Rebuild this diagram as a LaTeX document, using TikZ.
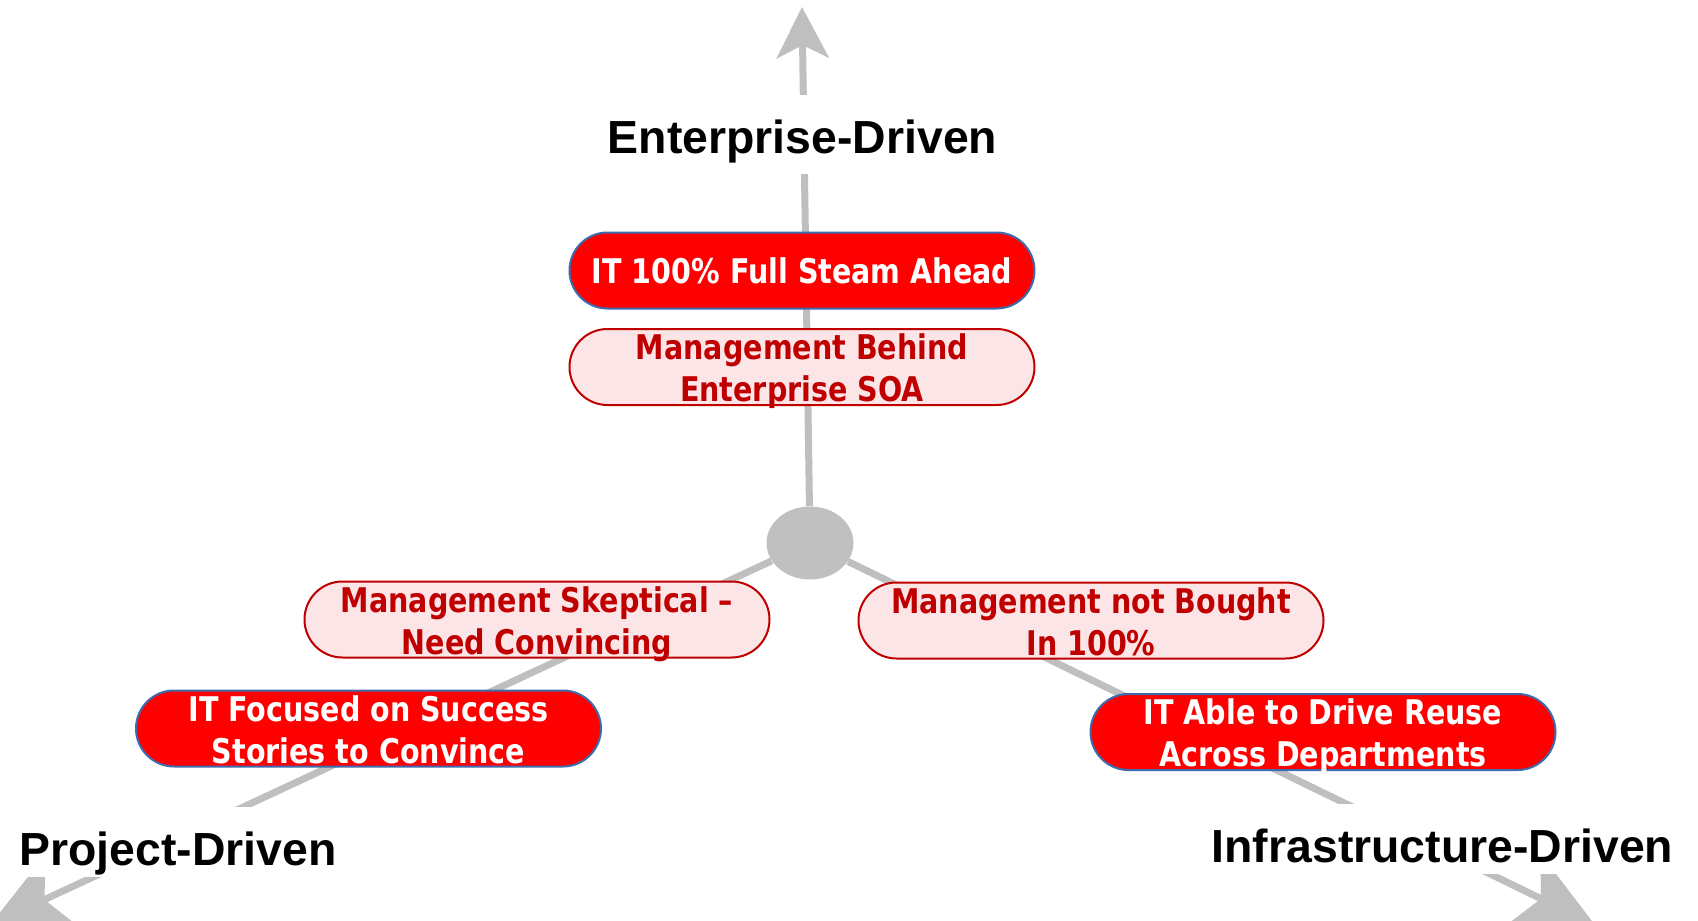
\documentclass[tikz,border=0pt]{standalone}
\usepackage{fontspec}
\usepackage{tikz}
\usetikzlibrary{arrows.meta,shapes.geometric}

\newfontfamily\pillfont[FakeStretch=0.84]{DejaVu Sans}
\newfontfamily\axisfont{Liberation Sans}

\definecolor{axisgray}{HTML}{BFBFBF}
\definecolor{hubgray}{HTML}{C0C0C0}
\definecolor{itred}{HTML}{FF0000}
\definecolor{itblue}{HTML}{3D6BAE}
\definecolor{mgmtred}{HTML}{C00000}
\definecolor{mgmtpink}{HTML}{FBE5E6}

\tikzset{axis tip/.style={-{Stealth[length=25.5pt,width=26pt,inset=6.5pt]}},
         big axis tip/.style={-{Stealth[length=40pt,width=40pt,inset=10pt]}}}

\begin{document}
\begin{tikzpicture}[x=0.5pt,y=-0.5pt]
\tikzstyle{AxisStyle}=[draw=axisgray, line width=3.5pt]
\tikzstyle{LabelStyle}=[font=\axisfont\bfseries\fontsize{23.2}{28}\selectfont, fill=white, inner sep=2pt, text height=27pt, text depth=8.5pt, anchor=base]
\tikzstyle{PillStyle}=[rounded corners=19pt, minimum width=232.5pt, minimum height=38pt, inner ysep=0pt, line width=1pt, align=center, font=\pillfont\bfseries\fontsize{17}{21}\selectfont, text depth=0pt, text height=34.5pt]
\tikzstyle{ITStyle}=[PillStyle, fill=itred, draw=itblue, text=white]
\tikzstyle{MgmtStyle}=[PillStyle, fill=mgmtpink, draw=mgmtred, text=mgmtred]

\useasboundingbox (0,0) rectangle (1698,921);

% hub and the three directions
\node[ellipse, fill=hubgray, minimum width=43.5pt, minimum height=36.5pt, inner sep=0pt] (hub) at (810,543) {};
\coordinate (entTip) at (802,7);
\coordinate (prjTip) at (-10,925);
\coordinate (infTip) at (1595,925);

\draw[AxisStyle, axis tip] (hub) -- (entTip);
\draw[AxisStyle, big axis tip] (hub) -- (prjTip);
\draw[AxisStyle, big axis tip] (hub) -- (infTip);

\node[LabelStyle] (ent) at (802.5,153) {Enterprise-Driven};
\node[LabelStyle, text depth=4pt] (prj) at (178,865) {Project-Driven};
\node[LabelStyle, text depth=4pt] (inf) at (1442.5,862) {Infrastructure-Driven};

% positions along the axes
\node[ITStyle, text height=12.5pt] (it100) at (802,270.5) {IT 100\% Full Steam Ahead};
\node[MgmtStyle] (mBehind) at (802,367) {Management Behind\\Enterprise SOA};

\node[MgmtStyle] (mSkept) at (537,619.5) {Management Skeptical –\\Need Convincing};
\node[ITStyle] (itFocus) at (368.5,728.5) {IT Focused on Success\\Stories to Convince};

\node[MgmtStyle] (mNotBought) at (1091,620.5) {Management not Bought\\In 100\%};
\node[ITStyle] (itReuse) at (1323,732) {IT Able to Drive Reuse\\Across Departments};
\end{tikzpicture}
\end{document}
